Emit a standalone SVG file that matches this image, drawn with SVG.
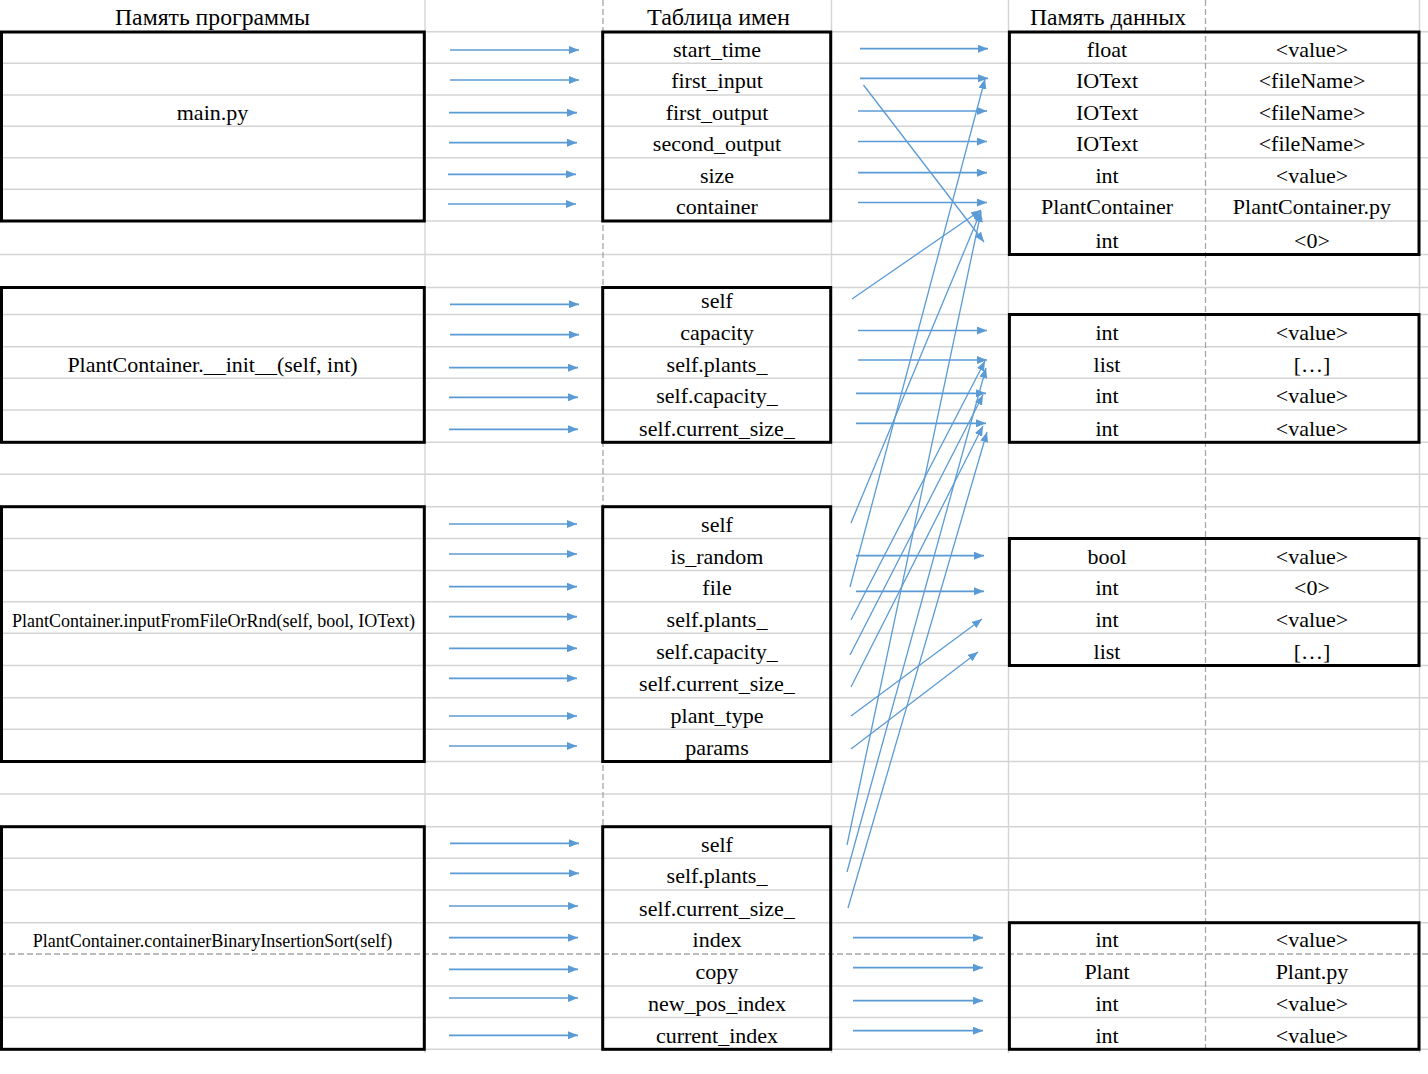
<svg xmlns="http://www.w3.org/2000/svg" width="1428" height="1074" viewBox="0 0 1428 1074">
  <style>
    .grid { stroke: #d4d4d4; stroke-width: 1.4; fill: none; }
    .pb { stroke: #a6a6a6; stroke-width: 1.3; stroke-dasharray: 6 3; fill: none; }
    .box { fill: none; stroke: #000; stroke-width: 3; }
    text { font-family: "Liberation Serif", "Times New Roman", serif; font-size: 22px; fill: #000; text-anchor: middle; }
    .small { font-size: 18px; }
    .head { font-size: 23px; }
    .conn line { stroke: #5b9bd5; stroke-width: 1.7; fill: none; marker-end: url(#ah); }
    .conn .diag line { stroke-width: 1.3; }
  </style>
  <defs>
    <marker id="ah" markerUnits="userSpaceOnUse" markerWidth="10" markerHeight="8" refX="10" refY="4" orient="auto">
      <path d="M0,0 L10,4 L0,8 z" fill="#5b9bd5"/>
    </marker>
  </defs>

  <rect x="0" y="0" width="1428" height="1074" fill="#fff"/>

  <!-- sheet grid: row lines -->
  <g id="grid">
    <line class="grid" x1="0" y1="31.7" x2="1428" y2="31.7"/>
    <line class="grid" x1="0" y1="63.3" x2="1428" y2="63.3"/>
    <line class="grid" x1="0" y1="95" x2="1428" y2="95"/>
    <line class="grid" x1="0" y1="126.3" x2="1428" y2="126.3"/>
    <line class="grid" x1="0" y1="157.7" x2="1428" y2="157.7"/>
    <line class="grid" x1="0" y1="189.3" x2="1428" y2="189.3"/>
    <line class="grid" x1="0" y1="221" x2="1428" y2="221"/>
    <line class="grid" x1="0" y1="254.5" x2="1428" y2="254.5"/>
    <line class="grid" x1="0" y1="287.5" x2="1428" y2="287.5"/>
    <line class="grid" x1="0" y1="314.5" x2="1428" y2="314.5"/>
    <line class="grid" x1="0" y1="346.7" x2="1428" y2="346.7"/>
    <line class="grid" x1="0" y1="378.3" x2="1428" y2="378.3"/>
    <line class="grid" x1="0" y1="410" x2="1428" y2="410"/>
    <line class="grid" x1="0" y1="442.3" x2="1428" y2="442.3"/>
    <line class="grid" x1="0" y1="474.3" x2="1428" y2="474.3"/>
    <line class="grid" x1="0" y1="506.7" x2="1428" y2="506.7"/>
    <line class="grid" x1="0" y1="538.5" x2="1428" y2="538.5"/>
    <line class="grid" x1="0" y1="570.5" x2="1428" y2="570.5"/>
    <line class="grid" x1="0" y1="601.7" x2="1428" y2="601.7"/>
    <line class="grid" x1="0" y1="633.3" x2="1428" y2="633.3"/>
    <line class="grid" x1="0" y1="665.5" x2="1428" y2="665.5"/>
    <line class="grid" x1="0" y1="697.7" x2="1428" y2="697.7"/>
    <line class="grid" x1="0" y1="729.3" x2="1428" y2="729.3"/>
    <line class="grid" x1="0" y1="761.5" x2="1428" y2="761.5"/>
    <line class="grid" x1="0" y1="794" x2="1428" y2="794"/>
    <line class="grid" x1="0" y1="826.7" x2="1428" y2="826.7"/>
    <line class="grid" x1="0" y1="858.3" x2="1428" y2="858.3"/>
    <line class="grid" x1="0" y1="890" x2="1428" y2="890"/>
    <line class="grid" x1="0" y1="922.7" x2="1428" y2="922.7"/>
    <line class="grid" x1="0" y1="986" x2="1428" y2="986"/>
    <line class="grid" x1="0" y1="1017.5" x2="1428" y2="1017.5"/>
    <line class="grid" x1="0" y1="1049.3" x2="1428" y2="1049.3"/>
    <!-- column lines -->
    <line class="grid" x1="425" y1="0" x2="425" y2="1053"/>
    <line class="grid" x1="831.5" y1="0" x2="831.5" y2="1053"/>
    <line class="grid" x1="1008.5" y1="0" x2="1008.5" y2="1053"/>
    <line class="grid" x1="1419.5" y1="0" x2="1419.5" y2="1053"/>
    <!-- page breaks -->
    <line class="pb" x1="603" y1="0" x2="603" y2="1053"/>
    <line class="pb" x1="1205.5" y1="0" x2="1205.5" y2="1053"/>
    <line class="pb" x1="0" y1="954" x2="1428" y2="954"/>
  </g>

  <!-- column headers -->
  <g id="headers">
    <text class="head" x="212.5" y="25" textLength="195" lengthAdjust="spacingAndGlyphs">Память программы</text>
    <text class="head" x="718.5" y="25" textLength="143" lengthAdjust="spacingAndGlyphs">Таблица имен</text>
    <text class="head" x="1108" y="25" textLength="156" lengthAdjust="spacingAndGlyphs">Память данных</text>
  </g>

  <!-- program memory -->
  <g id="prog-main">
    <rect class="box" x="1.5" y="32" width="422.8" height="189"/>
    <text x="212.5" y="119.5">main.py</text>
  </g>
  <g id="prog-init">
    <rect class="box" x="1.5" y="287.5" width="422.8" height="154.8"/>
    <text x="212.5" y="371.7">PlantContainer.__init__(self, int)</text>
  </g>
  <g id="prog-input">
    <rect class="box" x="1.5" y="506.7" width="422.8" height="254.8"/>
    <text class="small" x="213.5" y="626.7">PlantContainer.inputFromFileOrRnd(self, bool, IOText)</text>
  </g>
  <g id="prog-sort">
    <rect class="box" x="1.5" y="826.7" width="422.8" height="222.6"/>
    <text class="small" x="212.5" y="947.4">PlantContainer.containerBinaryInsertionSort(self)</text>
  </g>

  <!-- name tables -->
  <g id="names-main">
    <rect class="box" x="602.7" y="32" width="228" height="189"/>
    <text x="717" y="56.7">start_time</text>
    <text x="717" y="88.4">first_input</text>
    <text x="717" y="119.7">first_output</text>
    <text x="717" y="151.1">second_output</text>
    <text x="717" y="182.7">size</text>
    <text x="717" y="214.4">container</text>
  </g>
  <g id="names-init">
    <rect class="box" x="602.7" y="287.5" width="228" height="154.8"/>
    <text x="717" y="307.9">self</text>
    <text x="717" y="340.1">capacity</text>
    <text x="717" y="371.7">self.plants_</text>
    <text x="717" y="403.4">self.capacity_</text>
    <text x="717" y="435.7">self.current_size_</text>
  </g>
  <g id="names-input">
    <rect class="box" x="602.7" y="506.7" width="228" height="254.8"/>
    <text x="717" y="531.9">self</text>
    <text x="717" y="563.9">is_random</text>
    <text x="717" y="595.1">file</text>
    <text x="717" y="626.7">self.plants_</text>
    <text x="717" y="658.9">self.capacity_</text>
    <text x="717" y="691.1">self.current_size_</text>
    <text x="717" y="722.7">plant_type</text>
    <text x="717" y="754.9">params</text>
  </g>
  <g id="names-sort">
    <rect class="box" x="602.7" y="826.7" width="228" height="222.6"/>
    <text x="717" y="851.7">self</text>
    <text x="717" y="883.4">self.plants_</text>
    <text x="717" y="916.1">self.current_size_</text>
    <text x="717" y="947.4">index</text>
    <text x="717" y="979.4">copy</text>
    <text x="717" y="1010.9">new_pos_index</text>
    <text x="717" y="1042.7">current_index</text>
  </g>

  <!-- data memory -->
  <g id="data-main">
    <rect class="box" x="1009.4" y="32" width="409.6" height="222.5"/>
    <text x="1107" y="56.7">float</text><text x="1312" y="56.7">&lt;value&gt;</text>
    <text x="1107" y="88.4">IOText</text><text x="1312" y="88.4">&lt;fileName&gt;</text>
    <text x="1107" y="119.7">IOText</text><text x="1312" y="119.7">&lt;fileName&gt;</text>
    <text x="1107" y="151.1">IOText</text><text x="1312" y="151.1">&lt;fileName&gt;</text>
    <text x="1107" y="182.7">int</text><text x="1312" y="182.7">&lt;value&gt;</text>
    <text x="1107" y="214.4">PlantContainer</text><text x="1312" y="214.4">PlantContainer.py</text>
    <text x="1107" y="247.9">int</text><text x="1312" y="247.9">&lt;0&gt;</text>
  </g>
  <g id="data-init">
    <rect class="box" x="1009.4" y="314.5" width="409.6" height="127.8"/>
    <text x="1107" y="340.1">int</text><text x="1312" y="340.1">&lt;value&gt;</text>
    <text x="1107" y="371.7">list</text><text x="1312" y="371.7">[…]</text>
    <text x="1107" y="403.4">int</text><text x="1312" y="403.4">&lt;value&gt;</text>
    <text x="1107" y="435.7">int</text><text x="1312" y="435.7">&lt;value&gt;</text>
  </g>
  <g id="data-input">
    <rect class="box" x="1009.4" y="538.5" width="409.6" height="127"/>
    <text x="1107" y="563.9">bool</text><text x="1312" y="563.9">&lt;value&gt;</text>
    <text x="1107" y="595.1">int</text><text x="1312" y="595.1">&lt;0&gt;</text>
    <text x="1107" y="626.7">int</text><text x="1312" y="626.7">&lt;value&gt;</text>
    <text x="1107" y="658.9">list</text><text x="1312" y="658.9">[…]</text>
  </g>
  <g id="data-sort">
    <rect class="box" x="1009.4" y="922.7" width="409.6" height="126.6"/>
    <text x="1107" y="947.4">int</text><text x="1312" y="947.4">&lt;value&gt;</text>
    <text x="1107" y="979.4">Plant</text><text x="1312" y="979.4">Plant.py</text>
    <text x="1107" y="1010.9">int</text><text x="1312" y="1010.9">&lt;value&gt;</text>
    <text x="1107" y="1042.7">int</text><text x="1312" y="1042.7">&lt;value&gt;</text>
  </g>

  <!-- connectors -->
  <g id="connectors" class="conn">
    <!-- program -> names -->
    <line x1="450" y1="50" x2="579" y2="50"/>
    <line x1="450" y1="80" x2="579" y2="80"/>
    <line x1="449" y1="112.7" x2="577" y2="112.7"/>
    <line x1="449" y1="142.7" x2="577" y2="142.7"/>
    <line x1="448" y1="174.3" x2="576" y2="174.3"/>
    <line x1="448" y1="204" x2="576" y2="204"/>

    <line x1="450" y1="304.3" x2="579" y2="304.3"/>
    <line x1="450" y1="334.7" x2="579" y2="334.7"/>
    <line x1="449" y1="367.7" x2="578" y2="367.7"/>
    <line x1="449" y1="397.3" x2="578" y2="397.3"/>
    <line x1="449" y1="429.3" x2="578" y2="429.3"/>

    <line x1="449" y1="524" x2="577" y2="524"/>
    <line x1="449" y1="554" x2="577" y2="554"/>
    <line x1="449" y1="586.7" x2="577" y2="586.7"/>
    <line x1="449" y1="616.7" x2="577" y2="616.7"/>
    <line x1="449" y1="648.3" x2="577" y2="648.3"/>
    <line x1="449" y1="678.3" x2="577" y2="678.3"/>
    <line x1="449" y1="716" x2="577" y2="716"/>
    <line x1="449" y1="746" x2="577" y2="746"/>

    <line x1="450" y1="843.3" x2="579" y2="843.3"/>
    <line x1="450" y1="873.3" x2="579" y2="873.3"/>
    <line x1="449" y1="906" x2="578" y2="906"/>
    <line x1="449" y1="937.7" x2="578" y2="937.7"/>
    <line x1="449" y1="969.3" x2="578" y2="969.3"/>
    <line x1="449" y1="998" x2="578" y2="998"/>
    <line x1="449" y1="1035.3" x2="578" y2="1035.3"/>

    <!-- names -> data, same row -->
    <line x1="860" y1="48.7" x2="988" y2="48.7"/>
    <line x1="860" y1="78.3" x2="988" y2="78.3"/>
    <line x1="858" y1="111" x2="987" y2="111"/>
    <line x1="858" y1="141.5" x2="987" y2="141.5"/>
    <line x1="858" y1="172.7" x2="987" y2="172.7"/>
    <line x1="858" y1="202.5" x2="987" y2="202.5"/>

    <line x1="858" y1="330.5" x2="987" y2="330.5"/>
    <line x1="858" y1="360" x2="987" y2="360"/>
    <line x1="856" y1="393.3" x2="986" y2="393.3"/>
    <line x1="856" y1="423.3" x2="986" y2="423.3"/>

    <line x1="856" y1="555.7" x2="984" y2="555.7"/>
    <line x1="856" y1="591.3" x2="984" y2="591.3"/>

    <line x1="853" y1="937.7" x2="983" y2="937.7"/>
    <line x1="853" y1="967.7" x2="983" y2="967.7"/>
    <line x1="853" y1="1000.7" x2="983" y2="1000.7"/>
    <line x1="853" y1="1030.7" x2="983" y2="1030.7"/>

    <!-- names -> data, across blocks -->
    <g class="diag">
      <line x1="863.5" y1="85" x2="984" y2="242"/>
      <line x1="852" y1="299" x2="981" y2="210"/>
      <line x1="851" y1="523" x2="981" y2="211"/>
      <line x1="850" y1="587" x2="985" y2="79"/>
      <line x1="851" y1="620" x2="985" y2="361"/>
      <line x1="850" y1="655" x2="983" y2="395"/>
      <line x1="851" y1="687" x2="983" y2="426"/>
      <line x1="851" y1="716" x2="982" y2="619"/>
      <line x1="851" y1="749" x2="978" y2="652"/>
      <line x1="847" y1="845" x2="981" y2="212"/>
      <line x1="847" y1="872" x2="986" y2="368"/>
      <line x1="848" y1="908" x2="987" y2="432"/>
    </g>
  </g>
</svg>
